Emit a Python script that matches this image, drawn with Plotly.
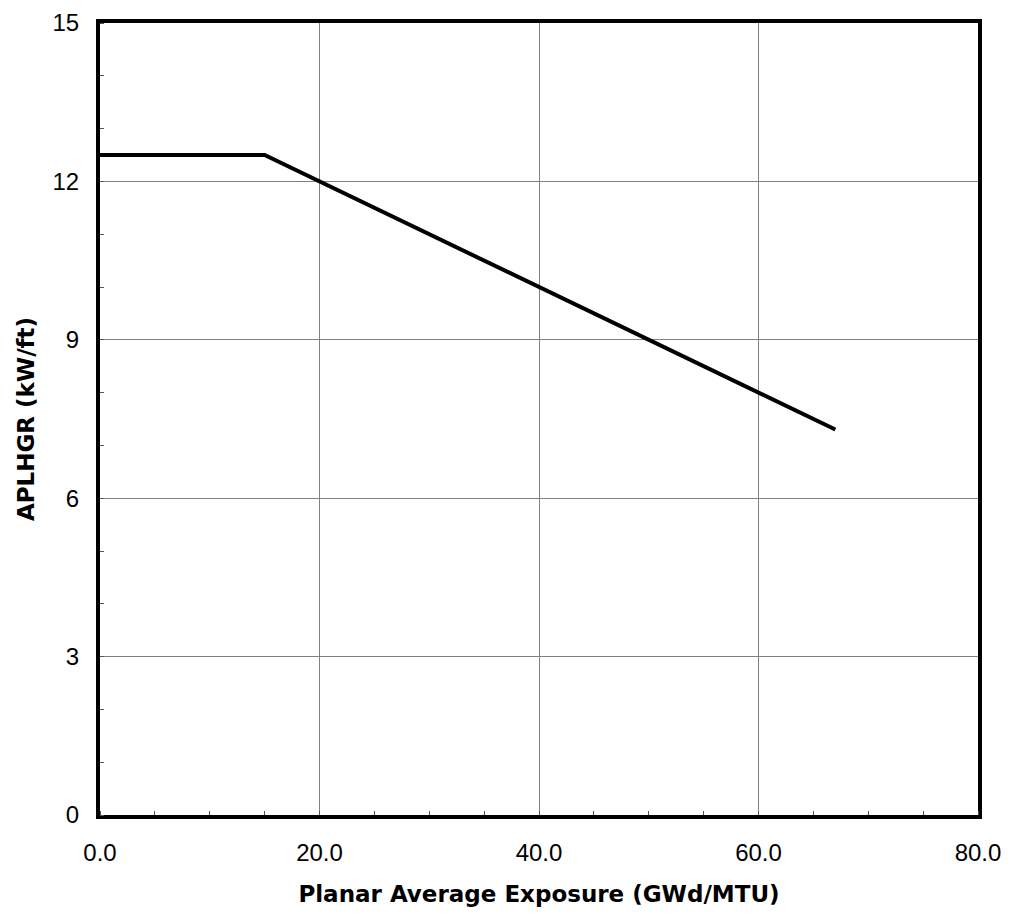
import plotly.graph_objects as go

exposure = [0.0, 15.0, 67.0]
aplhgr = [12.5, 12.5, 7.3]
x_ticks = [0, 20, 40, 60, 80]
x_tick_labels = ["0.0", "20.0", "40.0", "60.0", "80.0"]
y_ticks = [0, 3, 6, 9, 12, 15]
y_tick_labels = ["0", "3", "6", "9", "12", "15"]

fig = go.Figure()
fig.add_trace(go.Scatter(x=exposure, y=aplhgr, mode="lines",
                         line=dict(color="black", width=4), showlegend=False))

tickfont = dict(family="Liberation Sans, Arial", size=24, color="black")
titlefont = dict(family="DejaVu Sans", size=23, color="black")
fig.update_layout(
    width=1009, height=919,
    margin=dict(l=92, r=39, t=15, b=112),
    paper_bgcolor="white", plot_bgcolor="white",
    xaxis=dict(range=[0, 80], tickvals=x_ticks, ticktext=x_tick_labels,
               showgrid=True, gridcolor="#808080", gridwidth=1,
               showline=True, linecolor="black", linewidth=4, mirror=True,
               ticks="", zeroline=False, automargin=False, ticklabelstandoff=13,
               ticklabeloverflow="allow",
               minor=dict(dtick=5, ticks="inside", ticklen=4, tickcolor="#555", showgrid=False),
               title=dict(text="<b>Planar Average Exposure (GWd/MTU)</b>", font=titlefont, standoff=22),
               tickfont=tickfont),
    yaxis=dict(range=[0, 15], tickvals=y_ticks, ticktext=y_tick_labels,
               showgrid=True, gridcolor="#808080", gridwidth=1,
               showline=True, linecolor="black", linewidth=4, mirror=True,
               ticks="", zeroline=False, automargin=False, ticklabelstandoff=12,
               ticklabeloverflow="allow",
               minor=dict(dtick=1, ticks="inside", ticklen=4, tickcolor="#555", showgrid=False),
               title=dict(text="<b>APLHGR (kW/ft)</b>", font=titlefont, standoff=12),
               tickfont=tickfont),
)
fig.write_html("out.html")
